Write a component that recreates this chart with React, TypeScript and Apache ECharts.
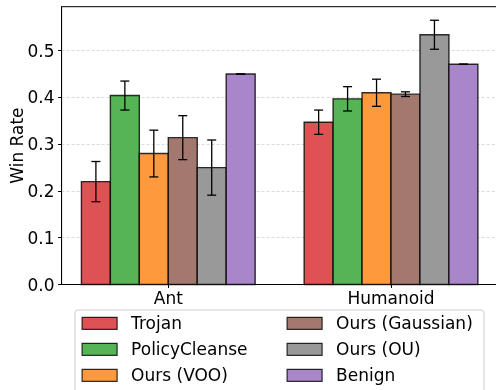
import React, { useEffect, useRef } from "react";
import * as echarts from "echarts";

const categories = ["Ant", "Humanoid"];
const seriesNames = ["Trojan", "PolicyCleanse", "Ours (VOO)", "Ours (Gaussian)", "Ours (OU)", "Benign"];
const trojanVals = [0.22, 0.347];
const trojanErr = [0.043, 0.026];
const policyCleanseVals = [0.404, 0.397];
const policyCleanseErr = [0.031, 0.026];
const vooVals = [0.28, 0.41];
const vooErr = [0.05, 0.029];
const gaussianVals = [0.314, 0.407];
const gaussianErr = [0.047, 0.005];
const ouVals = [0.25, 0.534];
const ouErr = [0.059, 0.031];
const benignVals = [0.45, 0.471];
const benignErr = [0, 0];
const yTicks = [0, 0.1, 0.2, 0.3, 0.4, 0.5];

const allVals = [trojanVals, policyCleanseVals, vooVals, gaussianVals, ouVals, benignVals];
const allErr = [trojanErr, policyCleanseErr, vooErr, gaussianErr, ouErr, benignErr];
const colors = ["#DE5253", "#56B356", "#FF993E", "#A3786F", "#999999", "#A985CA"];

const BAR_W = 0.13;
const FONT = "DejaVu Sans";
const FS = 17;
const EDGE = "rgba(0,0,0,0.8)";

export default function App() {
  const ref = useRef<HTMLDivElement>(null);
  useEffect(() => {
    if (!ref.current) return;
    const chart = echarts.init(ref.current, null, { renderer: "svg" });
    const series = seriesNames.map((name, si) => ({
      type: "custom",
      name,
      itemStyle: { color: colors[si] },
      encode: { x: 0, y: 1 },
      data: categories.map((_, ci) => [ci, allVals[si][ci], allErr[si][ci]]),
      renderItem: (params: any, api: any) => {
        const x = api.value(0);
        const v = api.value(1);
        const e = api.value(2);
        const xc = x + (si - 2.5) * BAR_W;
        const tl = api.coord([xc - BAR_W / 2, v]);
        const br = api.coord([xc + BAR_W / 2, 0]);
        const top = api.coord([xc, v + e]);
        const bot = api.coord([xc, v - e]);
        const cap = 4.5;
        return {
          type: "group",
          children: [
            {
              type: "rect",
              shape: { x: tl[0], y: tl[1], width: br[0] - tl[0], height: br[1] - tl[1] },
              style: { fill: colors[si], stroke: EDGE, lineWidth: 1.4 },
            },
            {
              type: "line",
              shape: { x1: top[0], y1: top[1], x2: bot[0], y2: bot[1] },
              style: { stroke: "#000", lineWidth: 1.3 },
            },
            {
              type: "line",
              shape: { x1: top[0] - cap, y1: top[1], x2: top[0] + cap, y2: top[1] },
              style: { stroke: "#000", lineWidth: 1.3 },
            },
            {
              type: "line",
              shape: { x1: bot[0] - cap, y1: bot[1], x2: bot[0] + cap, y2: bot[1] },
              style: { stroke: "#000", lineWidth: 1.3 },
            },
          ],
        };
      },
    }));

    const legendCommon = {
      orient: "vertical",
      top: 314.8,
      itemWidth: 35,
      itemHeight: 12,
      itemGap: 9,
      padding: 0,
      icon: "rect",
      selectedMode: false,
      textStyle: { fontSize: FS, fontFamily: FONT, color: "#000", lineHeight: 17, padding: [0, 0, 0, 9] },
    };
    const legendItem = (i: number) => ({
      name: seriesNames[i],
      itemStyle: { color: colors[i], borderColor: EDGE, borderWidth: 1.2 },
    });

    chart.setOption({
      animation: false,
      grid: {
        left: 61.6,
        right: -1.7,
        top: 6.7,
        bottom: 105.5,
        outerBoundsMode: "none",
        containLabel: false,
        show: true,
        borderColor: "#000",
        borderWidth: 1,
        backgroundColor: "transparent",
      },
      xAxis: {
        type: "value",
        min: -0.479,
        max: 1.479,
        splitLine: { show: false },
        axisLine: { show: true, onZero: false, lineStyle: { color: "#000", width: 1 } },
        axisTick: { show: true, customValues: [0, 1], length: 3.5, lineStyle: { color: "#000" } },
        axisLabel: {
          customValues: [0, 1],
          formatter: (v: number) => categories[Math.round(v)] ?? "",
          fontSize: FS,
          fontFamily: FONT,
          color: "#000",
          margin: 5,
        },
      },
      yAxis: {
        type: "value",
        min: 0,
        max: 0.594,
        interval: 0.1,
        name: "Win Rate",
        nameLocation: "middle",
        nameGap: 36.5,
        nameMoveOverlap: false,
        nameTextStyle: { fontSize: FS, fontFamily: FONT, color: "#000" },
        axisLine: { show: true, onZero: false, lineStyle: { color: "#000", width: 1 } },
        axisTick: { show: true, customValues: yTicks, length: 3.5, lineStyle: { color: "#000" } },
        axisLabel: {
          customValues: yTicks,
          formatter: (v: number) => v.toFixed(1),
          fontSize: FS,
          fontFamily: FONT,
          color: "#000",
          margin: 7,
        },
        splitLine: { show: true, lineStyle: { color: "#d0d0d0", type: [3, 2], width: 0.8 } },
      },
      legend: [
        { ...legendCommon, left: 81.5, data: [0, 1, 2].map(legendItem) },
        { ...legendCommon, left: 286.5, data: [3, 4, 5].map(legendItem) },
      ],
      graphic: [
        {
          type: "rect",
          z: 3,
          shape: { x: 75, y: 310, width: 409, height: 100, r: 3 },
          style: { fill: "rgba(255,255,255,0.8)", stroke: "#cccccc", lineWidth: 1 },
        },
      ],
      series,
    } as any);
    return () => chart.dispose();
  }, []);
  return <div ref={ref} style={{ position: "fixed", left: 0, top: 0, width: 496, height: 390 }} />;
}
